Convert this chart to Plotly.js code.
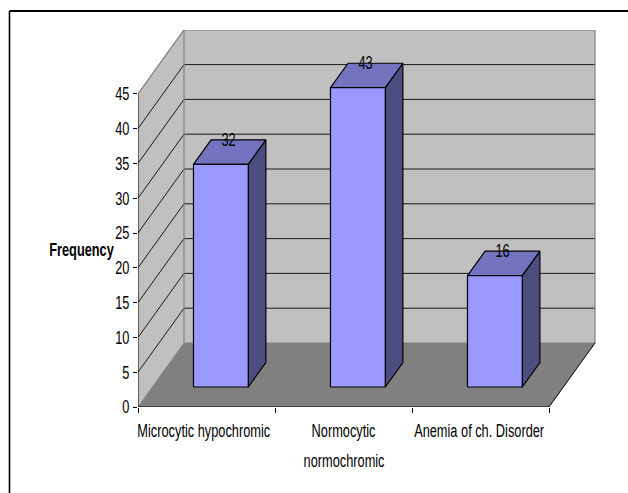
<!DOCTYPE html>
<html><head><meta charset="utf-8">
<script src="https://cdn.plot.ly/plotly-3.0.1.min.js"></script>
<style>html,body{margin:0;padding:0;background:#fff}</style></head>
<body><div id="chart" style="width:628px;height:493px"></div>
<script>
const categories = ["Microcytic hypochromic", "Normocytic", "Anemia of ch. Disorder"];
const secondLine = ["", "normochromic", ""];
const frequency = [32, 43, 16];
const tickValues = [0, 5, 10, 15, 20, 25, 30, 35, 40, 45];

const W = 628, H = 493;
const L = 138, R = 596, T = 30, B = 407;
const pxX = 137, pxY = 6.96;
const xMax = (R - L) / pxX, yMax = (B - T) / pxY;
const dX = 46 / pxX, dY = 64 / pxY;      // wall depth in axis units
const nCat = categories.length, vMax = 45;
const barW = 0.4, d0 = 0.3125, d1 = 0.695;
const FONT = '"Liberation Sans", Arial, sans-serif';
const SQUEEZE = 0.71;

const traces = [];
function poly(x, y, fill, line, w) {
  traces.push({type:'scatter', mode: w ? 'lines' : 'none', x:x.concat(x[0]), y:y.concat(y[0]), fill:'toself',
    fillcolor:fill, line:{color:line||fill, width:w||0}, hoverinfo:'skip', showlegend:false});
}
function seg(x, y, color, w) {
  traces.push({type:'scatter', mode:'lines', x, y, line:{color, width:w||1}, hoverinfo:'skip', showlegend:false});
}
// walls and floor
poly([0, dX, dX, 0], [0, dY, vMax+dY, vMax], '#C0C0C0');
poly([dX, nCat+dX, nCat+dX, dX], [dY, dY, vMax+dY, vMax+dY], '#C0C0C0');
poly([0, nCat, nCat+dX, dX], [0, 0, dY, dY], '#808080');
// gridlines
tickValues.slice(1, -1).forEach(v => {
  seg([0, dX, nCat+dX], [v, v+dY, v+dY], '#1a1a1a', 1);
});
// wall edges
seg([0, dX, nCat+dX, nCat+dX], [vMax, vMax+dY, vMax+dY, dY], '#808080', 1.2);
seg([dX, dX], [dY, vMax+dY], '#808080', 1.2);
seg([0, dX, nCat+dX], [0, dY, dY], '#808080', 1);
seg([nCat, nCat+dX], [0, dY], '#000', 1);
seg([0, 0], [0, vMax], '#000', 1);
seg([0, nCat], [0, 0], '#000', 1.2);
// bars
frequency.forEach((v, i) => {
  const xa = i + 0.5 - barW/2 + d0*dX, xb = xa + barW;
  const ya = d0*dY;
  const ox = (d1-d0)*dX, oy = (d1-d0)*dY;
  poly([xb, xb+ox, xb+ox, xb], [ya, ya+oy, ya+oy+v, ya+v], '#4D4D80', '#000', 1.2);
  poly([xa, xb, xb+ox, xa+ox], [ya+v, ya+v, ya+v+oy, ya+v+oy], '#7373BF', '#000', 1.2);
  poly([xa, xb, xb, xa], [ya, ya, ya+v, ya+v], '#9999FF', '#000', 1.2);
});
// value labels
traces.push({type:'scatter', mode:'text',
  x: frequency.map((v,i)=> i+0.5+0.5*dX-0.007),
  y: frequency.map((v)=> v + 0.695*dY - 0.2),
  text: frequency.map(String), textposition:'middle center',
  textfont:{family:FONT, size:18, color:'#000'}, hoverinfo:'skip', showlegend:false});
// overlay axis carrying category labels
traces.push({type:'scatter', mode:'none', x:[0,1], y:[0,0], xaxis:'x2', hoverinfo:'skip', showlegend:false});

const annotations = [
  {text:'<b>Frequency</b>', xref:'paper', yref:'paper', x:(81.5-L)/(R-L), y:(B-250)/(B-T), showarrow:false,
   font:{family:FONT, size:18, color:'#000'}, xanchor:'center', yanchor:'middle'}
];
secondLine.forEach((t,i)=>{ if(t) annotations.push({text:t, xref:'x', yref:'paper', x:i+0.5, y:(B-461)/(B-T),
   showarrow:false, font:{family:FONT, size:18, color:'#000'}, xanchor:'center', yanchor:'middle'}); });

const layout = {
  width:W, height:H, showlegend:false, paper_bgcolor:'#fff', plot_bgcolor:'rgba(0,0,0,0)',
  margin:{l:L, r:W-R, t:T, b:H-B, pad:0},
  font:{family:FONT, size:18, color:'#000'},
  xaxis:{range:[0,xMax], tickvals:[0,1,2,3], ticktext:['','','',''], ticks:'outside', ticklen:5, tickcolor:'#000',
    tickwidth:1, showgrid:false, zeroline:false, showline:false, fixedrange:true},
  xaxis2:{overlaying:'x', side:'bottom', anchor:'y', range:[0,xMax], tickmode:'array',
    tickvals:[0.48,1.5,2.49], ticktext:categories, ticks:'', ticklabelstandoff:11, tickangle:0,
    tickfont:{family:FONT,size:18,color:'#000'}, showgrid:false, zeroline:false, showline:false, fixedrange:true},
  yaxis:{range:[0,yMax], tickvals:tickValues, ticks:'outside', ticklen:4, tickcolor:'#000', tickwidth:1,
    tickfont:{family:FONT,size:18,color:'#000'}, showgrid:false, zeroline:false, showline:false, fixedrange:true},
  annotations,
  shapes:[
    {type:'line', xref:'paper', yref:'paper', x0:(9.5-L)/(R-L), x1:(9.5-L)/(R-L), y0:(B-11)/(B-T), y1:(B-493)/(B-T), line:{color:'#000',width:1.6}},
    {type:'line', xref:'paper', yref:'paper', x0:(9.5-L)/(R-L), x1:(628-L)/(R-L), y0:(B-11)/(B-T), y1:(B-11)/(B-T), line:{color:'#000',width:1.8}}
  ]
};
Plotly.newPlot('chart', traces, layout, {displayModeBar:false, staticPlot:true}).then(gd => {
  // the reference uses a condensed face: narrow the real text horizontally
  gd.querySelectorAll('svg text').forEach(t => {
    const len = t.getComputedTextLength();
    if (len > 0) {
      t.setAttribute('textLength', (len * SQUEEZE).toFixed(1));
      t.setAttribute('lengthAdjust', 'spacingAndGlyphs');
    }
  });
});
</script></body></html>
